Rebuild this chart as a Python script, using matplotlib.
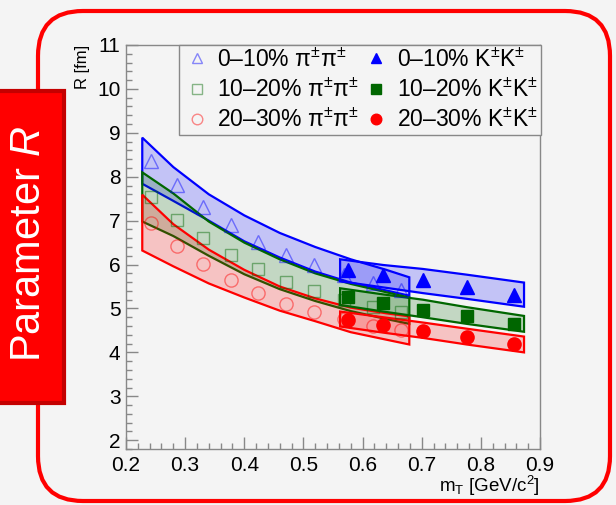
import matplotlib
matplotlib.use("Agg")
import matplotlib.pyplot as plt
from matplotlib.colors import to_rgba
from matplotlib.patches import FancyBboxPatch, Rectangle
from matplotlib.ticker import MultipleLocator, FormatStrFormatter
import numpy as np

plt.rcParams["font.family"] = ["Liberation Sans", "DejaVu Sans"]
plt.rcParams["mathtext.fontset"] = "custom"
plt.rcParams["mathtext.rm"] = "Liberation Sans"
plt.rcParams["mathtext.it"] = "Liberation Sans:italic"
plt.rcParams["mathtext.bf"] = "Liberation Sans:bold"

# data
pi_mt = [0.242, 0.286, 0.331, 0.377, 0.424, 0.470, 0.518, 0.568, 0.617, 0.665]
pi_R_0_10 = [8.35, 7.82, 7.31, 6.89, 6.52, 6.22, 5.99, 5.77, 5.59, 5.42]
pi_R_10_20 = [7.55, 7.02, 6.60, 6.22, 5.89, 5.61, 5.39, 5.20, 5.04, 4.91]
pi_R_20_30 = [6.95, 6.42, 6.02, 5.65, 5.36, 5.11, 4.91, 4.76, 4.60, 4.50]

k_mt = [0.576, 0.635, 0.702, 0.776, 0.856]
k_R_0_10 = [5.87, 5.77, 5.64, 5.49, 5.31]
k_R_10_20 = [5.26, 5.12, 4.97, 4.83, 4.65]
k_R_20_30 = [4.74, 4.63, 4.49, 4.34, 4.18]

# model bands (upper / lower edges)
pi_band_mt = [0.2275, 0.28, 0.34, 0.40, 0.46, 0.52, 0.58, 0.64, 0.679]
pi_band_0_10_hi = [8.89, 8.22, 7.60, 7.12, 6.72, 6.40, 6.12, 5.88, 5.71]
pi_band_0_10_lo = [7.84, 7.45, 7.00, 6.53, 6.16, 5.84, 5.59, 5.41, 5.29]
pi_band_10_20_hi = [8.10, 7.62, 6.98, 6.50, 6.12, 5.80, 5.56, 5.37, 5.25]
pi_band_10_20_lo = [6.98, 6.65, 6.20, 5.78, 5.44, 5.17, 4.94, 4.76, 4.65]
pi_band_20_30_hi = [7.59, 6.92, 6.34, 5.88, 5.50, 5.23, 5.02, 4.89, 4.82]
pi_band_20_30_lo = [6.32, 5.96, 5.57, 5.25, 4.95, 4.71, 4.46, 4.29, 4.18]

k_band_mt = [0.562, 0.635, 0.702, 0.776, 0.873]
k_band_0_10_hi = [6.12, 5.99, 5.90, 5.77, 5.59]
k_band_0_10_lo = [5.62, 5.48, 5.35, 5.22, 5.04]
k_band_10_20_hi = [5.46, 5.32, 5.20, 5.03, 4.83]
k_band_10_20_lo = [5.08, 4.93, 4.80, 4.65, 4.47]
k_band_20_30_hi = [4.93, 4.80, 4.68, 4.54, 4.36]
k_band_20_30_lo = [4.59, 4.45, 4.33, 4.18, 4.00]

bg = "#f4f4f4"
blue = "#0000ff"
green = "#006600"
red = "#ff0000"

fig = plt.figure(figsize=(6.16, 5.05), dpi=100, facecolor=bg)
ax = fig.add_axes([126 / 616, 1 - 449 / 505, 414 / 616, 404 / 505])
ax.set_facecolor(bg)


def band(x, hi, lo, color, z):
    xs = np.concatenate([x, x[::-1]])
    ys = np.concatenate([hi, lo[::-1]])
    ax.fill(xs, ys, facecolor=to_rgba(color, 0.2), edgecolor=color,
            linewidth=1.6, zorder=z)


band(np.array(pi_band_mt), np.array(pi_band_0_10_hi), np.array(pi_band_0_10_lo), blue, 2)
band(np.array(pi_band_mt), np.array(pi_band_10_20_hi), np.array(pi_band_10_20_lo), green, 2)
band(np.array(pi_band_mt), np.array(pi_band_20_30_hi), np.array(pi_band_20_30_lo), red, 2)
band(np.array(k_band_mt), np.array(k_band_0_10_hi), np.array(k_band_0_10_lo), blue, 3)
band(np.array(k_band_mt), np.array(k_band_10_20_hi), np.array(k_band_10_20_lo), green, 3)
band(np.array(k_band_mt), np.array(k_band_20_30_hi), np.array(k_band_20_30_lo), red, 3)

pm = r"$^{\pm}$"
ms = 9.5
h1, = ax.plot(pi_mt, pi_R_0_10, "^", ms=ms, mfc="none", mec=to_rgba(blue, 0.45), mew=1.0,
              ls="none", zorder=4, label="0–10% π" + pm + "π" + pm)
h2, = ax.plot(pi_mt, pi_R_10_20, "s", ms=ms - 0.5, mfc="none", mec=to_rgba(green, 0.45), mew=1.0,
              ls="none", zorder=4, label="10–20% π" + pm + "π" + pm)
h3, = ax.plot(pi_mt, pi_R_20_30, "o", ms=ms, mfc="none", mec=to_rgba(red, 0.45), mew=1.0,
              ls="none", zorder=4, label="20–30% π" + pm + "π" + pm)
h4, = ax.plot(k_mt, k_R_0_10, "^", ms=ms, color=blue, ls="none", zorder=5,
              label="0–10% K" + pm + "K" + pm)
h5, = ax.plot(k_mt, k_R_10_20, "s", ms=ms - 0.5, color=green, ls="none", zorder=5,
              label="10–20% K" + pm + "K" + pm)
h6, = ax.plot(k_mt, k_R_20_30, "o", ms=ms, color=red, ls="none", zorder=5,
              label="20–30% K" + pm + "K" + pm)

ax.set_xlim(0.2, 0.9)
ax.set_ylim(1.8, 11)
ax.xaxis.set_major_locator(MultipleLocator(0.1))
ax.xaxis.set_minor_locator(MultipleLocator(0.02))
ax.xaxis.set_major_formatter(FormatStrFormatter("%.1f"))
ax.yaxis.set_major_locator(MultipleLocator(1))
ax.yaxis.set_minor_locator(MultipleLocator(0.2))
ax.tick_params(which="both", direction="in", color="#888888", labelsize=15,
               top=False, right=False)
ax.tick_params(which="major", length=8.5, width=1)
ax.tick_params(which="minor", length=4.3, width=1)
ax.tick_params(axis="x", pad=5)
ax.tick_params(axis="y", pad=4)
for s in ax.spines.values():
    s.set_color("#888888")
    s.set_linewidth(1)

ax.set_xlabel(r"m$_{\mathrm{T}}$ [GeV/c$^{2}$]", fontsize=13.5, loc="right")
ax.xaxis.set_label_coords(1.0, -0.062)
ax.set_ylabel("R [fm]", fontsize=12, loc="top")
ax.yaxis.set_label_coords(-0.088, 1.0)

leg = ax.legend(handles=[h1, h2, h3, h4, h5, h6], ncol=2, loc="upper right",
                bbox_to_anchor=(1.003, 1.0), borderaxespad=0, fontsize=16.5,
                frameon=True, fancybox=False, edgecolor="#888888",
                facecolor=bg, framealpha=1, handlelength=1.3, markerscale=0.8,
                handletextpad=0.25, columnspacing=0.1, labelspacing=0.3,
                borderpad=0.14)
leg.get_frame().set_linewidth(1)
leg.set_zorder(10)

# slide decoration: rounded frame and side label
frame = FancyBboxPatch((0.38, 0.04), 5.72, 4.90, boxstyle="round,pad=0,rounding_size=0.45",
                       transform=fig.dpi_scale_trans, facecolor="none",
                       edgecolor=red, linewidth=3.0, zorder=0)
fig.patches.append(frame)
tag = Rectangle((-0.05, 1.02), 0.69, 3.12, transform=fig.dpi_scale_trans,
                facecolor=red, edgecolor="#c40000", linewidth=3.0, zorder=1)
fig.patches.append(tag)
fig.text(0.29 / 6.16, 2.61 / 5.05, "Parameter $R$", color="white", fontsize=30,
         rotation=90, ha="center", va="center")

fig.savefig("out.png", dpi=100, facecolor=bg)
